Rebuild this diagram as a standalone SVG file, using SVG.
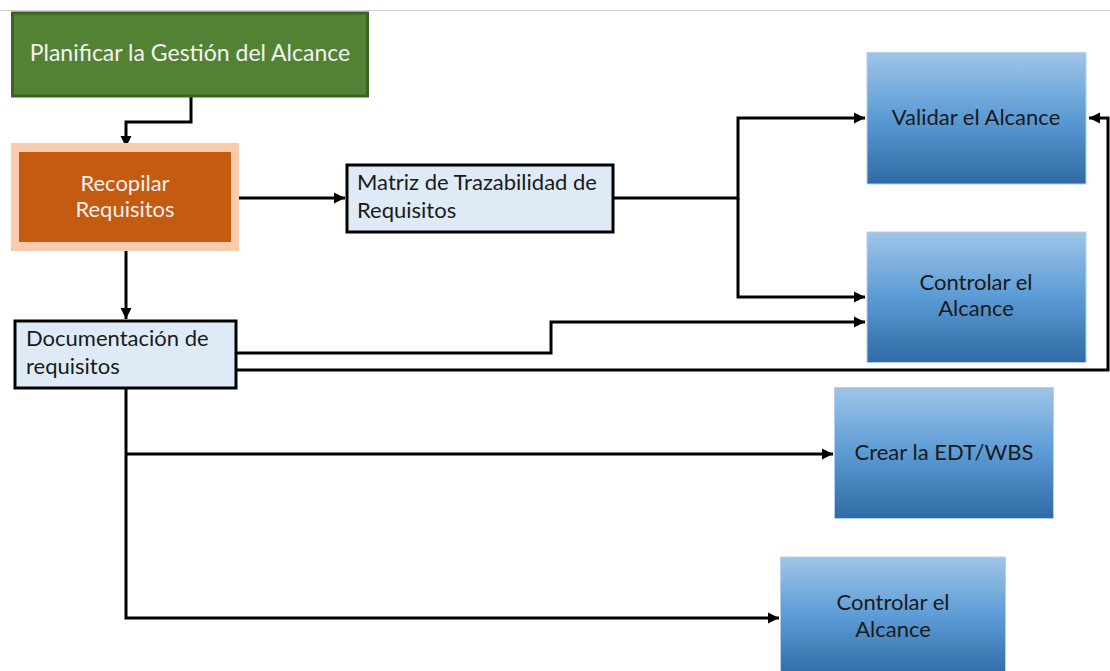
<svg xmlns="http://www.w3.org/2000/svg" width="1110" height="671" viewBox="0 0 1110 671">
  <defs>
    <linearGradient id="blueFill" x1="0" y1="0" x2="0" y2="1">
      <stop offset="0" stop-color="#9fc5e8"/>
      <stop offset="0.5" stop-color="#5b9bd5"/>
      <stop offset="1" stop-color="#2f6aa5"/>
    </linearGradient>
    <marker id="arrow" viewBox="0 0 10 10" refX="10" refY="5" markerWidth="3.8" markerHeight="3.8" orient="auto" markerUnits="strokeWidth">
      <path d="M0,0 L10,5 L0,10 z" fill="#000"/>
    </marker>
  </defs>
  <style>
    text { font-family: Lato, "Liberation Sans", sans-serif; font-size: 22px; }
    .light { fill: #f2f2f2; }
    .dark { fill: #1a1a1a; }
    .doc { fill: #deebf7; stroke: #000; stroke-width: 3; }
    .proc { fill: url(#blueFill); stroke: #b4cfea; stroke-width: 1; }
    .wire { fill: none; stroke: #000; stroke-width: 3; }
    .arrowed { marker-end: url(#arrow); }
  </style>

  <rect width="1110" height="671" fill="#ffffff"/>
  <line x1="0" y1="10.5" x2="1110" y2="10.5" stroke="#cfcfcf" stroke-width="1"/>

  <g id="connectors">
    <path class="wire arrowed" d="M191,97 V122 H126 V147"/>
    <path class="wire arrowed" d="M236,198 H345"/>
    <path class="wire arrowed" d="M614,198 H738 V118 H865"/>
    <path class="wire arrowed" d="M738,198 V297 H865"/>
    <path class="wire arrowed" d="M126,250 V319"/>
    <path class="wire arrowed" d="M237,353 H551 V322 H865"/>
    <path class="wire arrowed" d="M237,370 H1108 V118 H1089"/>
    <path class="wire arrowed" d="M126,389 V618 H779"/>
    <path class="wire arrowed" d="M126,454 H833"/>
  </g>

  <g id="planificar">
    <rect x="12.5" y="13" width="355" height="83" fill="#548235" stroke="#3d6128" stroke-width="3"/>
    <text class="light" x="190" y="61" text-anchor="middle" style="font-size:23px">Planificar la Gestión del Alcance</text>
  </g>

  <g id="recopilar">
    <rect x="11" y="143" width="228" height="108" fill="#f8cbad"/>
    <rect x="19" y="152" width="212" height="90" fill="#c55a11"/>
    <text class="light" text-anchor="middle"><tspan x="125" y="191">Recopilar</tspan><tspan x="125" y="217">Requisitos</tspan></text>
  </g>

  <g id="matriz">
    <rect class="doc" x="347" y="165" width="266" height="67"/>
    <text class="dark"><tspan x="357" y="190">Matriz de Trazabilidad de</tspan><tspan x="357" y="218">Requisitos</tspan></text>
  </g>

  <g id="documentacion">
    <rect class="doc" x="15" y="321" width="221" height="67"/>
    <text class="dark"><tspan x="26" y="346">Documentación de</tspan><tspan x="26" y="374">requisitos</tspan></text>
  </g>

  <g id="validar">
    <rect class="proc" x="867" y="52.5" width="219" height="131.5"/>
    <text class="dark" x="976" y="125" text-anchor="middle">Validar el Alcance</text>
  </g>

  <g id="controlar-1">
    <rect class="proc" x="867" y="232" width="219" height="130.5"/>
    <text class="dark" text-anchor="middle"><tspan x="976" y="290">Controlar el</tspan><tspan x="976" y="316">Alcance</tspan></text>
  </g>

  <g id="crear-edt">
    <rect class="proc" x="834.5" y="387.5" width="219" height="131"/>
    <text class="dark" x="944" y="460" text-anchor="middle">Crear la EDT/WBS</text>
  </g>

  <g id="controlar-2">
    <rect class="proc" x="780.5" y="557" width="225" height="120"/>
    <text class="dark" text-anchor="middle"><tspan x="893" y="610">Controlar el</tspan><tspan x="893" y="637">Alcance</tspan></text>
  </g>
</svg>
